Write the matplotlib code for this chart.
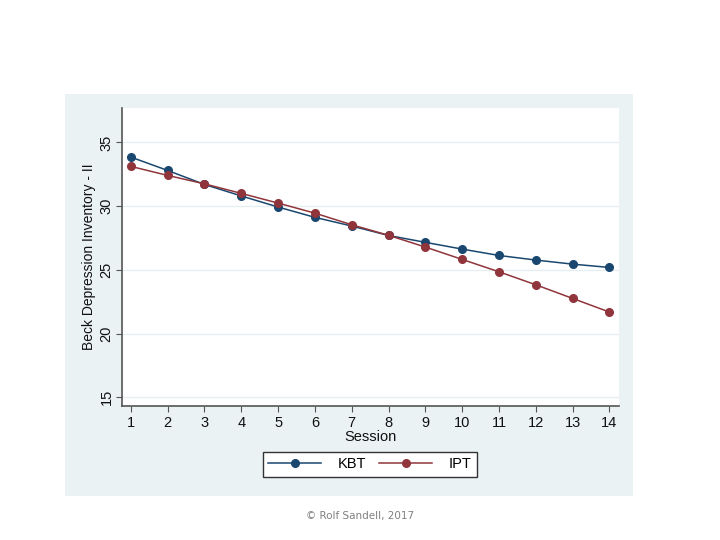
import matplotlib
matplotlib.use('Agg')
import matplotlib.pyplot as plt

# values
sessions = list(range(1, 15))
kbt = [33.85, 32.8, 31.7, 30.8, 29.93, 29.12, 28.44, 27.7, 27.16, 26.63, 26.13, 25.77, 25.45, 25.19]
ipt = [33.12, 32.41, 31.75, 31.0, 30.24, 29.45, 28.54, 27.71, 26.79, 25.82, 24.85, 23.83, 22.76, 21.69]
yticks = [15, 20, 25, 30, 35]

navy = '#1a476f'
maroon = '#90353b'
panel_bg = '#eaf2f3'

plt.rcParams['font.family'] = ['Liberation Sans', 'DejaVu Sans']

fig = plt.figure(figsize=(7.2, 5.4), dpi=100)
fig.patch.set_facecolor('white')

# light panel behind the graph
bg = fig.add_axes([65 / 720, 1 - 496 / 540, (633 - 65) / 720, (496 - 94) / 540], zorder=-1)
bg.set_facecolor(panel_bg)
bg.set_xticks([])
bg.set_yticks([])
for s in bg.spines.values():
    s.set_visible(False)

ax = fig.add_axes([122 / 720, 1 - 406 / 540, (619 - 122) / 720, (406 - 108) / 540], zorder=1)
ax.set_facecolor('white')

ax.plot(sessions, kbt, color=navy, marker='o', markersize=5.5, linewidth=1.1, label='KBT', zorder=3)
ax.plot(sessions, ipt, color=maroon, marker='o', markersize=5.5, linewidth=1.1, label='IPT', zorder=3)

ax.set_xlim(0.76, 14.26)
ax.set_ylim(14.32, 37.7)
ax.set_xticks(sessions)
ax.set_yticks(yticks)
ax.grid(axis='y', color='#e6eef0', linewidth=1)
ax.set_axisbelow(True)

for side in ['top', 'right']:
    ax.spines[side].set_visible(False)
for side in ['left', 'bottom']:
    ax.spines[side].set_color('#555555')
    ax.spines[side].set_linewidth(1.2)

ax.tick_params(axis='both', direction='out', length=4, color='#555555', labelsize=10.5, labelcolor='#111111')
ax.tick_params(axis='y', pad=2)
for lab in ax.get_yticklabels():
    lab.set_rotation(90)
    lab.set_va('center')

ax.set_xlabel('Session', fontsize=10.5, labelpad=0, color='#111111')
ax.set_ylabel('Beck Depression Inventory - II', fontsize=10, labelpad=3, color='#111111')

leg = fig.legend(loc='center', bbox_to_anchor=(370 / 720, 1 - 464.5 / 540), ncol=2, fontsize=10.5,
                 frameon=True, fancybox=False, edgecolor='#333333', framealpha=1, handlelength=3.6,
                 columnspacing=0.9, handletextpad=1.15, borderpad=0.4, borderaxespad=0)
leg.get_frame().set_linewidth(1.0)
leg.get_frame().set_facecolor('white')
leg.set_zorder(5)

fig.text(360 / 720, 1 - 516 / 540, '\u00a9 Rolf Sandell, 2017', fontsize=7.5, color='#808080',
         ha='center', va='center', family='DejaVu Sans')

fig.savefig('out.png', dpi=100)
